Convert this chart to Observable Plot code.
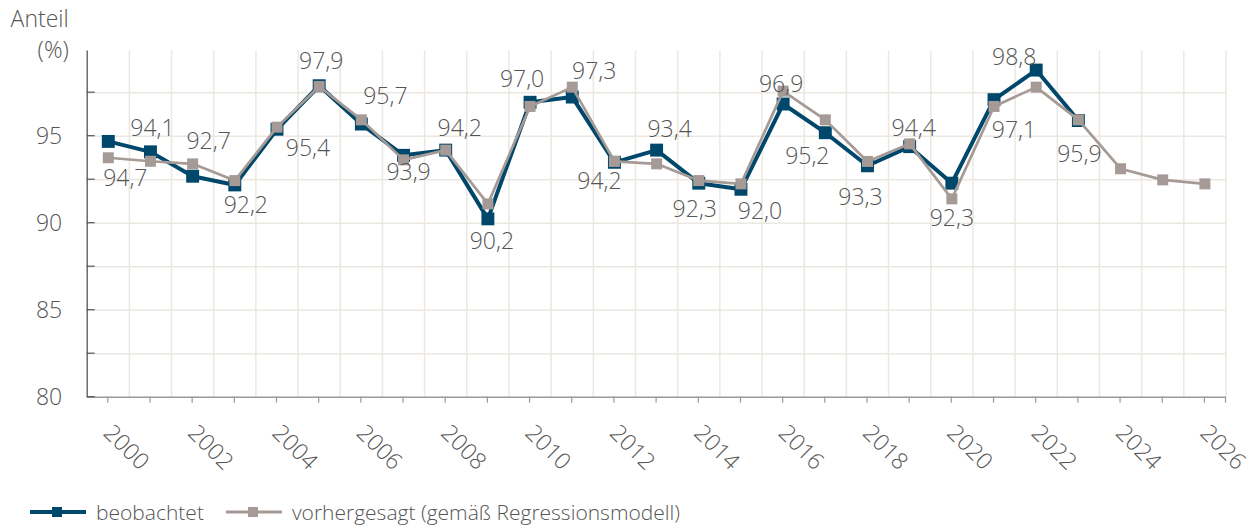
<!DOCTYPE html>
<html>
<head>
<meta charset="utf-8">
<script src="https://cdn.jsdelivr.net/npm/d3@7"></script>
<script src="https://cdn.jsdelivr.net/npm/@observablehq/plot@0.6"></script>
<style>
  html, body { margin: 0; padding: 0; background: #fff; }
  body { width: 1256px; height: 526px; position: relative; overflow: hidden; font-family: "Open Sans", sans-serif; font-weight: 300; color: #555; }
  #legend { position: absolute; left: 30px; top: 498px; display: flex; align-items: center; font-size: 21px; color: #555; }
  #legend .item { display: flex; align-items: center; margin-right: 22px; }
  #legend svg { margin-right: 10px; }
</style>
</head>
<body>
<div id="chart"></div>
<div id="legend"></div>
<script>
// ---- data ----
const obsYears = [2000,2001,2002,2003,2004,2005,2006,2007,2008,2009,2010,2011,2012,2013,2014,2015,2016,2017,2018,2019,2020,2021,2022,2023];
const obsValues = [94.7,94.1,92.7,92.2,95.4,97.9,95.7,93.9,94.2,90.25,96.95,97.25,93.5,94.2,92.3,91.95,96.85,95.2,93.3,94.4,92.3,97.1,98.8,95.9];
const obsLabels = ["94,7","94,1","92,7","92,2","95,4","97,9","95,7","93,9","94,2","90,2","97,0","97,3","94,2","93,4","92,3","92,0","96,9","95,2","93,3","94,4","92,3","97,1","98,8","95,9"];
const predYears = [2000,2001,2002,2003,2004,2005,2006,2007,2008,2009,2010,2011,2012,2013,2014,2015,2016,2017,2018,2019,2020,2021,2022,2023,2024,2025,2026];
const predValues = [93.76,93.56,93.41,92.45,95.52,97.86,95.94,93.64,94.2,91.11,96.71,97.82,93.55,93.41,92.45,92.26,97.59,95.94,93.55,94.56,91.4,96.71,97.82,95.94,93.13,92.49,92.26];
const xTickYears = d3.range(2000, 2027);
const xLabelYears = d3.range(2000, 2027, 2);
const yLabelTicks = [80, 85, 90, 95];
const yGridTicks = [82.5, 85, 87.5, 90, 92.5, 95, 97.5];
const yAllTicks = [80, 82.5, 85, 87.5, 90, 92.5, 95, 97.5];
const seriesNames = ["beobachtet", "vorhergesagt (gemäß Regressionsmodell)"];

// ---- label placement (pixel offsets from each observed point) ----
const labelOffsets = [
  [17,37],[2,-23],[16,-35],[11,21],[31,19],[2,-24],[24,-27],[5,17],[14,-21],[4,23],
  [-8,-23],[22,-25],[-15,19],[13,-20],[-4,26],[19,22],[-2,-19],[-18,24],[-7,32],[4,-18],
  [0,35],[20,31],[-22,-12],[1,34]
];

// ---- styling ----
const blue = "#00486b";
const grey = "#a59a95";
const grid = "#ece8e1";
const textCol = "#555";
const fontFamily = "'Open Sans', sans-serif";
const fs = 23;

const obs = obsYears.map((y, i) => ({year: y, value: obsValues[i], label: obsLabels[i], off: labelOffsets[i]}));
const pred = predYears.map((y, i) => ({year: y, value: predValues[i]}));

const labelMarks = obs.map(d => Plot.text([d], {
  x: "year", y: "value", text: "label",
  dx: d.off[0], dy: d.off[1],
  fill: textCol, fontSize: fs, fontWeight: 300
}));

const chart = Plot.plot({
  width: 1256,
  height: 490,
  marginLeft: 86.7,
  marginRight: 30.5,
  marginTop: 48.7,
  marginBottom: 93.3,
  style: {fontFamily, fontSize: fs + "px", fontWeight: 300, color: textCol, background: "transparent", overflow: "visible"},
  x: {type: "linear", domain: [1999.5, 2026.5], axis: null},
  y: {type: "linear", domain: [80, 100], axis: null},
  marks: [
    // grid
    Plot.ruleY(yGridTicks, {stroke: grid, strokeWidth: 1.5}),
    Plot.ruleX(xTickYears.map(y => y + 0.5), {stroke: grid, strokeWidth: 1.5, y1: 80, y2: 99.9}),
    // axis lines
    Plot.ruleY([80], {stroke: "#9a9a9a", strokeWidth: 1.5}),
    Plot.ruleX([1999.5], {stroke: "#555", strokeWidth: 1.3, y1: 80, y2: 99.9}),
    // y tick labels
    Plot.text(yLabelTicks, {y: d => d, frameAnchor: "left", text: d => String(d), textAnchor: "end", dx: -25, fill: textCol, fontSize: fs}),
    // x tick labels
    Plot.text(xLabelYears, {x: d => d, frameAnchor: "bottom", text: d => String(d), rotate: 45, textAnchor: "start", lineAnchor: "bottom", dx: -6, dy: 37, fill: textCol, fontSize: fs}),
    // y title
    Plot.text(["Anteil\n(%)"], {frameAnchor: "top-left", textAnchor: "end", lineAnchor: "top", dx: -18.5, dy: -45, lineHeight: 1.38, fill: textCol, fontSize: fs}),
    // observed
    Plot.line(obs, {x: "year", y: "value", stroke: blue, strokeWidth: 4}),
    Plot.dot(obs, {x: "year", y: "value", symbol: "square", r: 7.3, fill: blue}),
    // predicted
    Plot.line(pred, {x: "year", y: "value", stroke: grey, strokeWidth: 2.7}),
    Plot.dot(pred, {x: "year", y: "value", symbol: "square", r: 6.2, fill: grey}),
    // labels
    ...labelMarks
  ]
});

// small tick marks placed through the chart's own scales
const xs = chart.scale("x"), ys = chart.scale("y");
const g = d3.select(chart).append("g");
yAllTicks.forEach(v => {
  g.append("line").attr("x1", xs.apply(1999.5)).attr("x2", xs.apply(1999.5) + 8)
    .attr("y1", ys.apply(v)).attr("y2", ys.apply(v)).attr("stroke", "#555").attr("stroke-width", 1.2);
});
xTickYears.concat([2026.5]).forEach(v => {
  g.append("line").attr("x1", xs.apply(v)).attr("x2", xs.apply(v))
    .attr("y1", ys.apply(80)).attr("y2", ys.apply(80) + 6).attr("stroke", "#999").attr("stroke-width", 1.2);
});

document.getElementById("chart").appendChild(chart);

// legend
const legend = document.getElementById("legend");
[[blue, 4, 10], [grey, 3, 10]].forEach(([c, sw, sq], i) => {
  const item = document.createElement("div");
  item.className = "item";
  item.innerHTML = `<svg width="56" height="16"><line x1="0" x2="56" y1="8" y2="8" stroke="${c}" stroke-width="${sw}"/><rect x="${28 - sq/2 - 1}" y="${8 - sq/2}" width="${sq}" height="${sq}" fill="${c}"/></svg><span>${seriesNames[i]}</span>`;
  legend.appendChild(item);
});
</script>
</body>
</html>
